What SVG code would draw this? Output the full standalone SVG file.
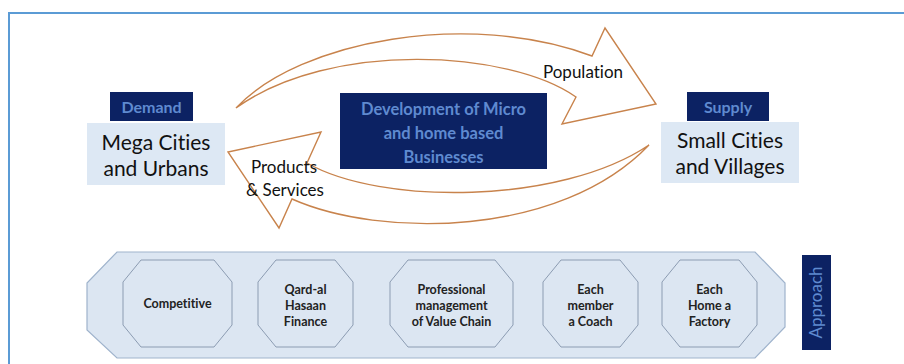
<svg xmlns="http://www.w3.org/2000/svg" width="904" height="364" viewBox="0 0 904 364">
<defs>
<style>
text{font-variant-ligatures:none}
.navy{fill:#0c2263}
.hdr{font-family:Lato,"Liberation Sans",sans-serif;font-weight:bold;fill:#5f8ad0;text-anchor:middle}
.place{fill:#dde8f4}
.big{font-family:Lato,"Liberation Sans",sans-serif;font-size:21px;fill:#111;text-anchor:middle}
.arrow{fill:#fff;stroke:#c8834c;stroke-width:1.4;stroke-linejoin:miter}
.lbl{font-family:Lato,"Liberation Sans",sans-serif;font-size:17px;fill:#111;text-anchor:middle}
.oct{fill:#dce6f2;stroke:#8c9cb2;stroke-width:1}
.otx{font-family:Lato,"Liberation Sans",sans-serif;font-weight:bold;font-size:12.5px;fill:#222;text-anchor:middle}
.vert{font-family:Lato,"Liberation Sans",sans-serif;font-size:17px;fill:#5f8ad0;text-anchor:middle}
</style>
</defs>
<rect x="0" y="0" width="904" height="364" fill="#fff"/>
<rect x="9" y="13" width="905" height="360" fill="none" stroke="#5b9bd5" stroke-width="2"/>

<g id="connectors">
<path class="arrow" d="M236,108 C300,40 470,10 592,56 L605,28 L656,104 L562,124 L576,97 C510,50 330,40 236,108 Z"/>
<path class="arrow" d="M649,145 C560,238 380,238 292,199 L279,228 L228,152 L321,132 L307,163 C380,205 560,205 649,145 Z"/>
<text class="lbl" x="583" y="78">Population</text>
<text class="lbl" x="284" y="173">Products</text>
<text class="lbl" x="285" y="196">&amp; Services</text>
</g>

<g id="demand">
<rect class="navy" x="110" y="92" width="83" height="29"/>
<text class="hdr" x="151.5" y="113" font-size="16">Demand</text>
</g>
<g id="mega-cities">
<rect class="place" x="87" y="123" width="138" height="62"/>
<text class="big" x="156" y="150">Mega Cities</text>
<text class="big" x="156" y="176">and Urbans</text>
</g>

<g id="development">
<rect class="navy" x="340" y="93" width="207" height="76"/>
<text class="hdr" x="443.5" y="115" font-size="16.5">Development of Micro</text>
<text class="hdr" x="443.5" y="139" font-size="16.5">and home based</text>
<text class="hdr" x="443.5" y="163" font-size="16.5">Businesses</text>
</g>

<g id="supply">
<rect class="navy" x="687" y="92" width="82" height="29"/>
<text class="hdr" x="728" y="113" font-size="16">Supply</text>
</g>
<g id="small-cities">
<rect class="place" x="661" y="122" width="138" height="61"/>
<text class="big" x="730" y="148">Small Cities</text>
<text class="big" x="730" y="174">and Villages</text>
</g>

<g id="approach-band">
<polygon points="117,252 755,252 785,283 785,327 755,358 117,358 87,330 87,283" fill="#dce6f2" stroke="#9fb3cc" stroke-width="1.2"/>
</g>

<g id="competitive">
<polygon class="oct" points="141,260 214,260 232,282 232,325 214,347 141,347 123,325 123,282"/>
<text class="otx" x="177.5" y="308">Competitive</text>
</g>
<g id="qard">
<polygon class="oct" points="276,260 335,260 353,282 353,325 335,347 276,347 258,325 258,282"/>
<text class="otx" x="305.5" y="294">Qard-al</text>
<text class="otx" x="305.5" y="310">Hasaan</text>
<text class="otx" x="305.5" y="326">Finance</text>
</g>
<g id="professional">
<polygon class="oct" points="408,260 495,260 513,282 513,325 495,347 408,347 390,325 390,282"/>
<text class="otx" x="451.5" y="294">Professional</text>
<text class="otx" x="451.5" y="310">management</text>
<text class="otx" x="451.5" y="326">of Value Chain</text>
</g>
<g id="coach">
<polygon class="oct" points="561,260 620,260 638,282 638,325 620,347 561,347 543,325 543,282"/>
<text class="otx" x="590.5" y="294">Each</text>
<text class="otx" x="590.5" y="310">member</text>
<text class="otx" x="590.5" y="326">a Coach</text>
</g>
<g id="factory">
<polygon class="oct" points="680,260 739,260 757,282 757,325 739,347 680,347 662,325 662,282"/>
<text class="otx" x="709.5" y="294">Each</text>
<text class="otx" x="709.5" y="310">Home a</text>
<text class="otx" x="709.5" y="326">Factory</text>
</g>

<g id="approach">
<rect class="navy" x="802" y="255" width="29" height="95"/>
<text class="vert" transform="translate(822,302.5) rotate(-90)">Approach</text>
</g>
</svg>
